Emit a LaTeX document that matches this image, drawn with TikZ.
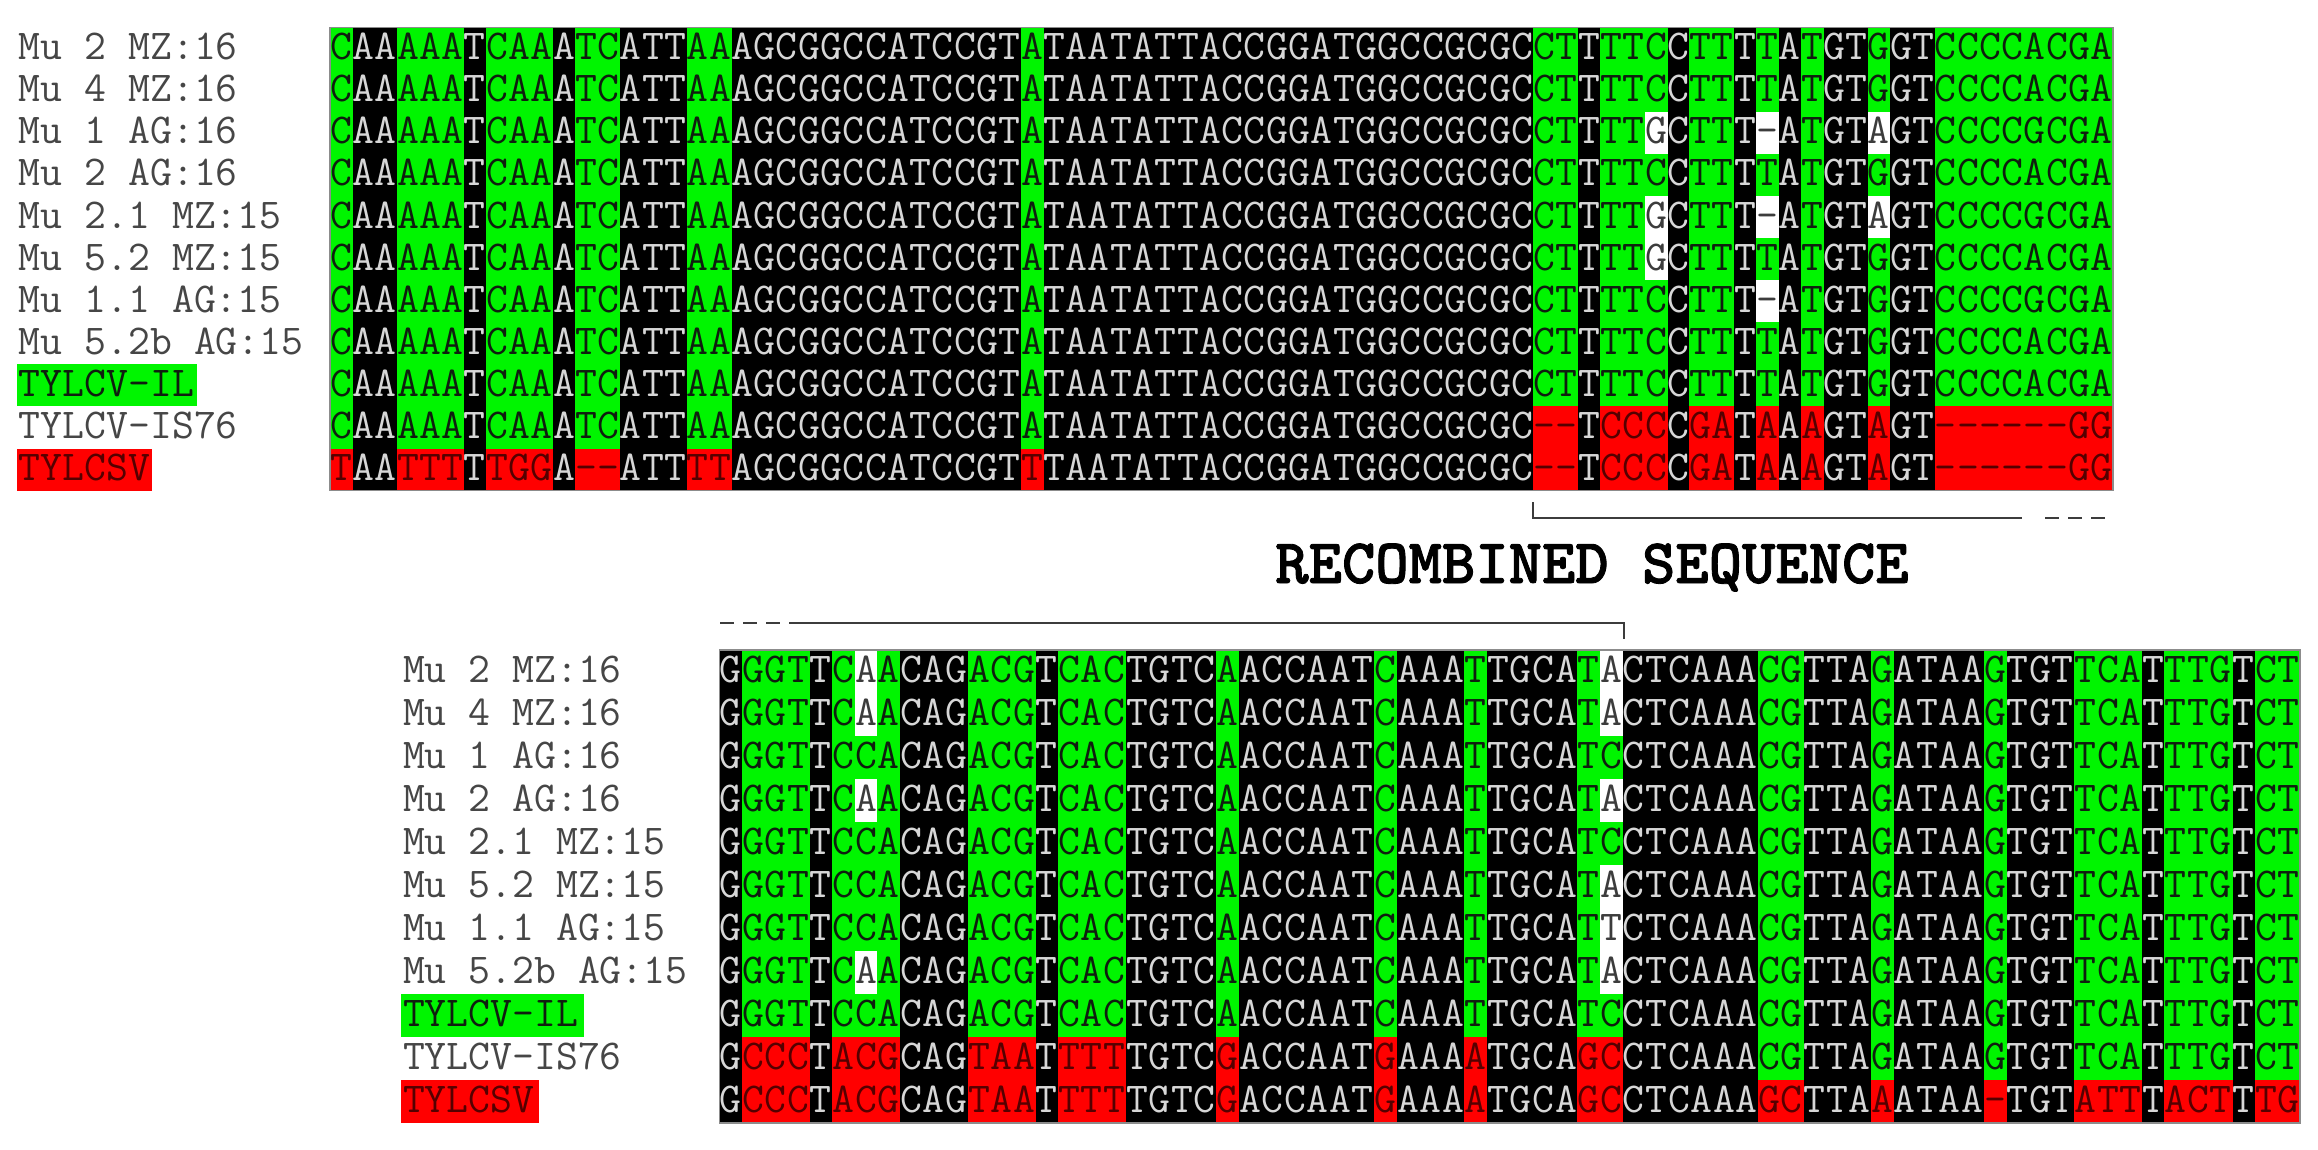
\documentclass[tikz,border=0pt]{standalone}
\usepackage{fontspec}
\newfontfamily\recfont[FakeBold=1.3]{lmmonolt10-bold.otf}
\definecolor{bgK}{RGB}{0,0,0}
\definecolor{bgG}{RGB}{0,245,0}
\definecolor{bgR}{RGB}{255,0,0}
\definecolor{bgW}{RGB}{255,255,255}
\definecolor{fgK}{RGB}{215,215,215}
\definecolor{fgG}{RGB}{15,30,15}
\definecolor{fgR}{RGB}{85,0,0}
\definecolor{fgW}{RGB}{60,60,60}
\definecolor{labelgray}{RGB}{70,70,70}
\definecolor{brkgray}{RGB}{60,60,60}

\ExplSyntaxOn
\cs_new_protected:Npn \getcell #1#2#3
  {
    \tl_gset:Nx \gT { \tl_item:Nn #1 {#2} }
    \tl_gset:Nx \gL { \tl_item:Nn #3 {#2} }
  }
\ExplSyntaxOff

\newcommand\whitecell[3]{\expandafter\def\csname W#1-#2-#3\endcsname{}}

\newcommand\seqrow[3]{%
  \foreach \i in {1,...,\ncols}{%
    \getcell\Ty{\i}#3%
    \if k\gT \def\cc{K}%
    \else
      \if g\gT
        \ifnum#2=3 \def\cc{R}\else\def\cc{G}\fi
      \else
        \ifnum#2>1 \def\cc{R}\else\def\cc{G}\fi
      \fi
    \fi
    \ifcsname W\blk-#1-\i\endcsname\def\cc{W}\fi
    \pgfmathsetmacro\xa{\xo+(\i-1)*\cw}%
    \pgfmathsetmacro\xb{\xo+\i*\cw+0.4}%
    \pgfmathsetmacro\xm{\xo+(\i-0.5)*\cw}%
    \pgfmathsetmacro\ya{\yo+(#1-1)*\rh}%
    \pgfmathsetmacro\yb{\yo+#1*\rh+0.4}%
    \pgfmathsetmacro\yc{\yo+(#1-0.235)*\rh}%
    \if K\cc
      \edef\act{\noexpand\node[seqchar,text=fgK] (c\blk-#1-\i) at (\xm,\yc) {\gL};}%
    \else
      \edef\act{\noexpand\fill[bg\cc] (\xa,\ya) rectangle (\xb,\yb); \noexpand\node[seqchar,text=fg\cc] (c\blk-#1-\i) at (\xm,\yc) {\gL};}%
    \fi
    \act
  }%
}

% column types: k = identical (black); g = IS76 with IL; r = IS76 with TYLCSV
\def\Ttop{gkkgggkggg%
kggkkkggkk%
kkkkkkkkkk%
kgkkkkkkkk%
kkkkkkkkkk%
kkkkrrkrrr%
krrkrkrkkr%
kkrrrrrrrr}
\def\Tbot{krrrkrrrkk%
krrrkrrrkk%
kkrkkkkkkr%
kkkrkkkkrr%
kkkkkkggkk%
kgkkkkgkkk%
gggkgggkgg}

% top sequences
\def\Pa{CAAAAATCAAATCATTAAAGCGGCCATCCGTATAATATTACCGGATGGCCGCGC}
\def\Pb{TAATTTTTGGA--ATTTTAGCGGCCATCCGTTTAATATTACCGGATGGCCGCGC}
\def\Sil{CTTTTCCTTTTATGTGGTCCCCACGA}
\def\Sc{CTTTTGCTTT-ATGTAGTCCCCGCGA}
\def\Sf{CTTTTGCTTTTATGTGGTCCCCACGA}
\def\Sg{CTTTTCCTTT-ATGTGGTCCCCGCGA}
\def\Sis{--TCCCCGATAAAGTAGT------GG}
\edef\TrA{\Pa\Sil}
\edef\TrC{\Pa\Sc}
\edef\TrF{\Pa\Sf}
\edef\TrG{\Pa\Sg}
\edef\TrJ{\Pa\Sis}
\edef\TrK{\Pb\Sis}

% bottom sequences
\def\Ba{GGGTTC}
\def\Bb{ACAGACGTCACTGTCAACCAATCAAATTGCAT}
\def\Bc{CTCAAACGTTAGATAAGTGTTCATTTGTCT}
\edef\BrA{\Ba A\Bb A\Bc}
\edef\BrC{\Ba C\Bb C\Bc}
\edef\BrF{\Ba C\Bb A\Bc}
\edef\BrG{\Ba C\Bb T\Bc}
\def\BrJ{GCCCTACGCAGTAATTTTTGTCGACCAATGAAAATGCAGCCTCAAACGTTAGATAAGTGTTCATTTGTCT}
\def\BrK{GCCCTACGCAGTAATTTTTGTCGACCAATGAAAATGCAGCCTCAAAGCTTAAATAA-TGTATTTACTTTG}

\whitecell{T}{3}{60}\whitecell{T}{3}{65}\whitecell{T}{3}{70}
\whitecell{T}{5}{60}\whitecell{T}{5}{65}\whitecell{T}{5}{70}
\whitecell{T}{6}{60}\whitecell{T}{7}{65}
\whitecell{B}{1}{7}\whitecell{B}{2}{7}\whitecell{B}{4}{7}\whitecell{B}{8}{7}
\whitecell{B}{1}{40}\whitecell{B}{2}{40}\whitecell{B}{4}{40}
\whitecell{B}{6}{40}\whitecell{B}{7}{40}\whitecell{B}{8}{40}

\tikzset{
  seqchar/.style={anchor=base, inner sep=0pt, outer sep=0pt, font=\ttfamily\fontsize{42.5}{50}\selectfont},
  labtext/.style={anchor=base west, inner sep=0pt, outer sep=0pt, font=\ttfamily\fontsize{42.5}{50}\selectfont, text=labelgray},
  blkborder/.style={draw=black!45, line width=1.5pt},
  brk/.style={draw=brkgray, line width=2.6pt},
  brkdash/.style={draw=brkgray, line width=2.6pt, dash pattern=on 14pt off 9pt},
  rectext/.style={anchor=base, inner sep=0pt, font=\recfont\fontsize{63.5}{70}\selectfont, text=black},
}

\begin{document}
\begin{tikzpicture}[x=1pt,y=-1pt]
\useasboundingbox (0,0) rectangle (2318,1150);
\fill[white] (0,0) rectangle (2318,1150);

% ---------- top block ----------
\def\blk{T}\def\xo{330}\def\yo{27.3}\def\cw{22.285}\def\rh{42.13}\def\ncols{80}\let\Ty\Ttop
\fill[black] (330,27.3) rectangle (2112.8,490.7);
\seqrow{1}{1}\TrA
\seqrow{2}{1}\TrA
\seqrow{3}{1}\TrC
\seqrow{4}{1}\TrA
\seqrow{5}{1}\TrC
\seqrow{6}{1}\TrF
\seqrow{7}{1}\TrG
\seqrow{8}{1}\TrA
\seqrow{9}{1}\TrA
\seqrow{10}{2}\TrJ
\seqrow{11}{3}\TrK
\draw[blkborder] (330,27.3) rectangle (2112.8,490.7);

% ---------- bottom block ----------
\def\blk{B}\def\xo{719.3}\def\yo{650}\def\cw{22.58}\def\rh{43}\def\ncols{70}\let\Ty\Tbot
\fill[black] (719.3,650) rectangle (2300,1123);
\seqrow{1}{1}\BrA
\seqrow{2}{1}\BrA
\seqrow{3}{1}\BrC
\seqrow{4}{1}\BrA
\seqrow{5}{1}\BrC
\seqrow{6}{1}\BrF
\seqrow{7}{1}\BrG
\seqrow{8}{1}\BrA
\seqrow{9}{1}\BrC
\seqrow{10}{2}\BrJ
\seqrow{11}{3}\BrK
\draw[blkborder] (719.3,650) rectangle (2300,1123);

% ---------- labels ----------
\fill[bgG] (17,{27.3+8*42.13}) rectangle (197,{27.3+9*42.13});
\fill[bgR] (17,{27.3+10*42.13}) rectangle (152,{27.3+11*42.13});
\fill[bgG] (401,994) rectangle (584,1037);
\fill[bgR] (401,1080) rectangle (539,1123);
\foreach \r/\t in {1/Mu 2 MZ:16,2/Mu 4 MZ:16,3/Mu 1 AG:16,4/Mu 2 AG:16,5/Mu 2.1 MZ:15,6/Mu 5.2 MZ:15,7/Mu 1.1 AG:15,8/Mu 5.2b AG:15}{
  \node[labtext] (lt\r) at (19,{27.3+(\r-0.235)*42.13}) {\t};
  \node[labtext] (lb\r) at (403,{650+(\r-0.235)*43}) {\t};
}
\node[labtext,text=fgG] (lt9) at (19,{27.3+8.765*42.13}) {TYLCV-IL};
\node[labtext] (lt10) at (19,{27.3+9.765*42.13}) {TYLCV-IS76};
\node[labtext,text=fgR] (lt11) at (19,{27.3+10.765*42.13}) {TYLCSV};
\node[labtext,text=fgG] (lb9) at (403,{650+8.765*43}) {TYLCV-IL};
\node[labtext] (lb10) at (403,{650+9.765*43}) {TYLCV-IS76};
\node[labtext,text=fgR] (lb11) at (403,{650+10.765*43}) {TYLCSV};

% ---------- recombined-region brackets ----------
\coordinate (ta) at (1533,502);
\coordinate (tb) at (1533,518);
\coordinate (tc) at (2022,518);
\coordinate (td) at (2045,518);
\coordinate (te) at (2110,518);
\draw[brk] (ta) -- (tb) -- (tc);
\draw[brkdash] (td) -- (te);
\coordinate (ba) at (720,623);
\coordinate (bb) at (781,623);
\coordinate (bc) at (789,623);
\coordinate (bd) at (1624,623);
\coordinate (be) at (1624,639);
\draw[brkdash] (ba) -- (bb);
\draw[brk] (bc) -- (bd) -- (be);
\node[rectext] (rec) at (1592,583) {RECOMBINED SEQUENCE};
\end{tikzpicture}
\end{document}
